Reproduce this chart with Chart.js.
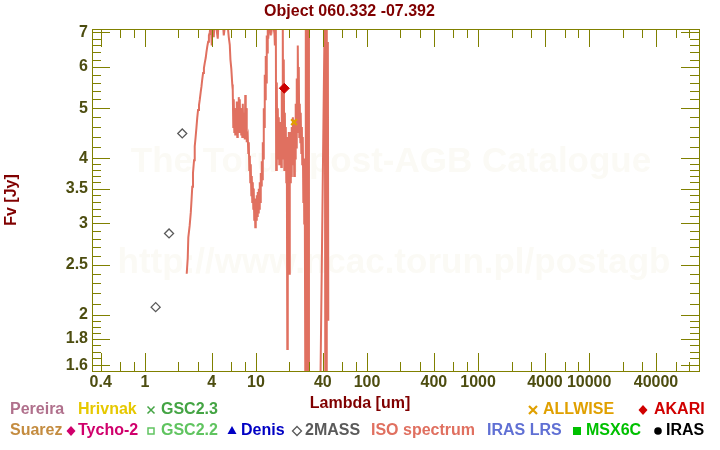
<!DOCTYPE html>
<html><head><meta charset="utf-8">
<script src="https://cdn.jsdelivr.net/npm/chart.js@4.4.1/dist/chart.umd.min.js"></script>
<style>html,body{margin:0;padding:0;background:#fff}canvas{display:block}</style>
</head><body>
<canvas id="c" width="720" height="450"></canvas>
<script>
// ---- data ----
const isoLambda = [
 2.38,2.43,2.46,2.53,2.59,2.63,2.67,2.71,2.77,2.81,2.86,2.91,2.96,3.01,3.07,3.12,3.18,3.23,3.28,3.34,3.40,3.46,3.53,3.58,3.64,3.71,3.77,3.84,3.92,
 4.00,4.08,4.17,4.25,4.34,4.53,4.62,4.82,5.02,5.13,5.35,5.57,5.69,5.81,5.89,6.00,6.12,6.18,
 6.25,6.31,6.38,6.44,6.51,6.58,6.65,6.72,6.79,6.86,6.93,7.00,7.07,7.15,7.22,7.30,7.37,7.45,7.53,7.61,7.69,7.77,7.93,8.01,8.09,8.18,8.26,
 8.44,8.53,8.62,8.71,8.80,8.89,8.98,9.08,9.17,9.26,9.36,9.46,9.55,9.65,9.75,9.86,9.96,10.06,10.17,10.27,10.38,10.49,10.60,10.71,10.82,10.94,11.05,11.16,11.28,
 11.40,11.52,11.64,11.76,11.88,12.00,12.13,12.25,12.38,12.51,12.64,12.77,
 12.9,13.3,13.6,13.9,14.2,14.5,14.8,15.1,
 15.2,15.4,15.55,15.72,15.9,16.05,16.2,16.38,16.55,16.7,
 16.9,17.08,17.26,17.44,17.6,17.8,18.0,18.2,18.4,18.56,
 18.75,18.95,19.15,19.34,19.5,19.75,19.95,20.16,20.4,20.6,
 20.8,21.0,21.2,21.5,21.7,21.9,22.1,22.4,22.6,22.8,
 23.1,23.3,23.6,23.8,24.05,24.3,24.55,24.8,25.1,25.3,
 25.6,25.9,26.1,26.4,26.7,27.0,27.2,27.5,
 27.8,28.1,28.4,28.7,29.0,29.5,30.0,34.2,37.8,
 41.7,42.1,42.6,43.0,43.4,43.9,44.4,44.8
];
const isoFlux = [
 2.40,2.57,2.82,2.97,3.15,3.33,3.53,3.75,3.97,4.22,4.39,4.58,4.79,4.96,5.07,5.19,5.37,5.50,5.67,5.84,5.97,6.11,6.25,6.40,6.56,6.71,6.90,7.00,7.3,
 6.6,7.4,6.85,7.5,7.3,6.8,7.5,7.3,7.4,6.9,7.4,7.2,6.85,6.62,6.2,5.95,5.55,5.42,
 4.6,5.2,4.5,5.0,4.45,4.95,4.55,5.15,4.4,4.9,4.5,5.25,4.7,5.2,4.5,5.0,4.45,4.8,4.4,5.1,4.5,4.9,4.35,5.3,4.4,5.0,4.3,
 4.4,4.1,4.3,3.8,4.05,3.6,3.9,3.4,3.7,3.3,3.6,3.2,3.5,3.05,3.35,2.95,3.3,3.05,3.4,3.1,3.45,3.15,3.5,3.2,3.6,3.3,3.75,3.55,3.95,
 3.65,4.3,4.0,5.0,4.6,5.8,5.2,6.3,5.6,6.9,6.4,7.4,
 6.8,7.5,6.9,7.5,7.2,7.5,6.6,7.4,
 3.8,5.6,4.2,5.0,4.0,4.8,3.9,4.5,4.0,4.7,
 3.85,5.4,4.3,7.3,4.0,6.2,3.8,4.9,3.9,4.6,
 3.6,4.4,1.72,4.2,3.4,4.5,2.4,4.0,3.6,4.5,
 3.7,4.6,3.9,4.8,4.1,4.75,3.7,4.5,4.0,5.1,
 4.2,5.7,4.5,6.6,4.9,6.0,4.4,5.1,4.3,4.9,
 4.1,4.6,3.9,4.4,3.3,4.0,3.0,3.6,
 1.5,8.0,1.5,8.0,1.5,8.0,1.4,1.3,1.3,
 8.0,1.4,8.0,1.5,7.5,2.0,6.7,1.95
];
const twomassLambda = [1.25, 1.65, 2.17];
const twomassFlux = [2.07, 2.87, 4.47];
const akariLambda = [18.0];
const akariFlux = [5.46];
const allwiseLambda = [22.0];
const allwiseFlux = [4.70];

const xTickValues = [0.4, 1, 4, 10, 40, 100, 400, 1000, 4000, 10000, 40000];
const xTickLabels = ['0.4','1','4','10','40','100','400','1000','4000','10000','40000'];
const xMinorValues = [0.6,0.8,2,3,6,8,20,30,60,80,200,300,600,800,2000,3000,6000,8000,20000,30000,60000,80000];
const yTickValues = [1.6, 1.8, 2, 2.5, 3, 3.5, 4, 5, 6, 7];
const yTickLabels = ['1.6','1.8','2','2.5','3','3.5','4','5','6','7'];
const yMinorValues = [1.65,1.7,1.75,1.85,1.9,1.95,2.1,2.2,2.3,2.4,2.6,2.7,2.8,2.9,3.1,3.2,3.3,3.4,3.6,3.7,3.8,3.9,4.2,4.4,4.6,4.8,5.2,5.4,5.6,5.8,6.2,6.4,6.6,6.8];

// legend entries: [text, colour, symbol]
const legendRow1 = [
 ['Pereira', '#b0708c', null],
 ['Hrivnak', '#e6c800', null],
 ['GSC2.3', '#44a444', 'cross'],
 ['ALLWISE', '#e0a000', 'boldcross'],
 ['AKARI', '#d00000', 'diamond']
];
const legendRow2 = [
 ['Suarez', '#c48c40', null],
 ['Tycho-2', '#d0006c', 'diamond'],
 ['GSC2.2', '#60c460', 'square'],
 ['Denis', '#0000c4', 'triangle'],
 ['2MASS', '#5a5a5a', 'odiamond'],
 ['ISO spectrum', '#e07060', null],
 ['IRAS LRS', '#6070d4', null],
 ['MSX6C', '#00c000', 'fsquare'],
 ['IRAS', '#000000', 'circle']
];
// layout (x of symbol, x of text) for each legend entry
const legendPos1 = [[null,10],[null,78],[151,161],[533,543],[643,654]];
const legendPos2 = [[null,10],[71,78],[151,161],[232,241],[297,305],[null,371],[null,487],[577,586],[658,666]];

const FONT = "'Liberation Sans', Arial, Helvetica, sans-serif";
const OLIVE = '#808000';
const TICKCOL = '#4d4d10';
const DARKRED = '#800000';

function toXY(xs, ys){ return xs.map((v,i)=>({x:v, y:ys[i]})); }

function drawSym(ctx, type, x, y, color){
  ctx.save();
  ctx.fillStyle = color; ctx.strokeStyle = color;
  ctx.beginPath();
  if (type === 'cross' || type === 'boldcross'){
    const s = type === 'cross' ? 3.5 : 4;
    ctx.lineWidth = type === 'cross' ? 1.5 : 2.2;
    ctx.moveTo(x-s,y-s); ctx.lineTo(x+s,y+s); ctx.moveTo(x+s,y-s); ctx.lineTo(x-s,y+s); ctx.stroke();
  } else if (type === 'diamond'){
    ctx.moveTo(x,y-5); ctx.lineTo(x+4.5,y); ctx.lineTo(x,y+5); ctx.lineTo(x-4.5,y); ctx.closePath(); ctx.fill();
  } else if (type === 'odiamond'){
    ctx.lineWidth = 1.3;
    ctx.moveTo(x,y-4.5); ctx.lineTo(x+4.5,y); ctx.lineTo(x,y+4.5); ctx.lineTo(x-4.5,y); ctx.closePath(); ctx.stroke();
  } else if (type === 'square'){
    ctx.lineWidth = 1.5; ctx.strokeRect(x-3,y-3,6,6);
  } else if (type === 'fsquare'){
    ctx.fillRect(x-4,y-4,8,8);
  } else if (type === 'triangle'){
    ctx.moveTo(x,y-5); ctx.lineTo(x+4.5,y+3); ctx.lineTo(x-4.5,y+3); ctx.closePath(); ctx.fill();
  } else if (type === 'circle'){
    ctx.arc(x,y,3.8,0,Math.PI*2); ctx.fill();
  }
  ctx.restore();
}

const decorPlugin = {
  id: 'decor',
  beforeDatasetsDraw(chart){
    const ctx = chart.ctx;
    ctx.save();
    ctx.fillStyle = '#fbfaf5';
    ctx.font = 'bold 35px ' + FONT;
    ctx.textAlign = 'center'; ctx.textBaseline = 'middle';
    ctx.fillText('The Torun post-AGB Catalogue', 391, 162);
    ctx.fillText('http://www.ncac.torun.pl/postagb', 394, 263);
    ctx.restore();
  },
  afterDatasetsDraw(chart){
    const ctx = chart.ctx;
    const a = chart.chartArea;
    const xs = chart.scales.x, ys = chart.scales.y;
    ctx.save();
    ctx.strokeStyle = OLIVE; ctx.lineWidth = 1;
    ctx.beginPath();
    const vTick = (v, len) => {
      const p = Math.round(xs.getPixelForValue(v)) + 0.5;
      if (p < a.left || p > a.right) return;
      ctx.moveTo(p, a.bottom); ctx.lineTo(p, a.bottom - len);
      ctx.moveTo(p, a.top); ctx.lineTo(p, a.top + len);
    };
    const hTick = (v, len) => {
      const p = Math.round(ys.getPixelForValue(v)) + 0.5;
      if (p < a.top || p > a.bottom) return;
      ctx.moveTo(a.left, p); ctx.lineTo(a.left + len, p);
      ctx.moveTo(a.right, p); ctx.lineTo(a.right - len, p);
    };
    xTickValues.forEach(v => vTick(v, 18));
    xMinorValues.forEach(v => vTick(v, 9));
    yTickValues.forEach(v => hTick(v, 18));
    yMinorValues.forEach(v => hTick(v, 9));
    ctx.stroke();
    ctx.strokeRect(Math.round(a.left)+0.5, Math.round(a.top)+0.5, Math.round(a.right-a.left), Math.round(a.bottom-a.top));
    ctx.restore();
  },
  afterDraw(chart){
    const ctx = chart.ctx;
    ctx.save();
    ctx.font = 'bold 16px ' + FONT;
    ctx.textBaseline = 'middle';
    ctx.textAlign = 'center';
    ctx.fillStyle = DARKRED;
    ctx.fillText('Lambda [um]', 360, 404);
    ctx.textAlign = 'left';
    const rows = [[legendRow1, legendPos1, 410], [legendRow2, legendPos2, 431]];
    rows.forEach(([items, pos, y]) => {
      items.forEach((it, i) => {
        const [text, color, sym] = it;
        const [sx, tx] = pos[i];
        if (sym) drawSym(ctx, sym, sx, y, color);
        ctx.fillStyle = color;
        ctx.fillText(text, tx, y);
      });
    });
    ctx.restore();
  }
};

Chart.defaults.font.family = FONT;

new Chart(document.getElementById('c'), {
  type: 'scatter',
  data: {
    datasets: [
      {
        label: 'AKARI',
        data: toXY(akariLambda, akariFlux),
        pointStyle: 'rectRot', pointRadius: 5, pointBorderWidth: 1,
        backgroundColor: '#cc0000', borderColor: '#cc0000'
      },
      {
        label: 'ALLWISE',
        data: toXY(allwiseLambda, allwiseFlux),
        pointStyle: 'crossRot', pointRadius: 4, pointBorderWidth: 2.2,
        backgroundColor: '#e0a000', borderColor: '#e0a000'
      },
      {
        label: '2MASS',
        data: toXY(twomassLambda, twomassFlux),
        pointStyle: 'rectRot', pointRadius: 4.5, pointBorderWidth: 1.3,
        backgroundColor: 'rgba(255,255,255,0)', borderColor: '#5a5a5a'
      },
      {
        label: 'ISO spectrum',
        data: toXY(isoLambda, isoFlux),
        showLine: true, pointRadius: 0, borderWidth: 2,
        borderColor: '#e07060', backgroundColor: '#e07060', tension: 0
      }
    ]
  },
  options: {
    responsive: false,
    animation: false,
    devicePixelRatio: 1,
    layout: { padding: { left: 0, right: 21, top: 0, bottom: 0 } },
    plugins: {
      legend: { display: false },
      tooltip: { enabled: false },
      title: {
        display: true,
        text: 'Object 060.332 -07.392',
        color: DARKRED,
        font: { size: 16, weight: 'bold', family: FONT, lineHeight: 1.2 },
        padding: { top: 2, bottom: 7.8 }
      }
    },
    scales: {
      x: {
        type: 'logarithmic',
        bounds: 'data',
        min: 0.334, max: 97500,
        grid: { display: false, drawTicks: false },
        border: { display: false },
        afterBuildTicks: (s) => { s.ticks = xTickValues.map(v => ({ value: v })); },
        afterFit: (s) => { s.height = 79; },
        ticks: {
          autoSkip: false, maxRotation: 0, minRotation: 0, padding: 2,
          color: TICKCOL,
          font: { size: 16, weight: 'bold', family: FONT },
          callback: (v) => { const i = xTickValues.indexOf(v); return i >= 0 ? xTickLabels[i] : ''; }
        },
        title: { display: false }
      },
      y: {
        type: 'logarithmic',
        bounds: 'data',
        min: 1.56, max: 7.10,
        grid: { display: false, drawTicks: false },
        border: { display: false },
        afterBuildTicks: (s) => { s.ticks = yTickValues.map(v => ({ value: v })); },
        afterFit: (s) => { s.width = 92; },
        ticks: {
          autoSkip: false, padding: 4,
          color: TICKCOL,
          font: { size: 16, weight: 'bold', family: FONT },
          callback: (v) => { const i = yTickValues.indexOf(v); return i >= 0 ? yTickLabels[i] : ''; }
        },
        title: {
          display: true, text: 'Fv [Jy]', color: DARKRED,
          font: { size: 16, weight: 'bold', family: FONT, lineHeight: 1.2 },
          padding: { top: 2, bottom: 0 }
        }
      }
    }
  },
  plugins: [decorPlugin]
});
</script>
</body></html>
